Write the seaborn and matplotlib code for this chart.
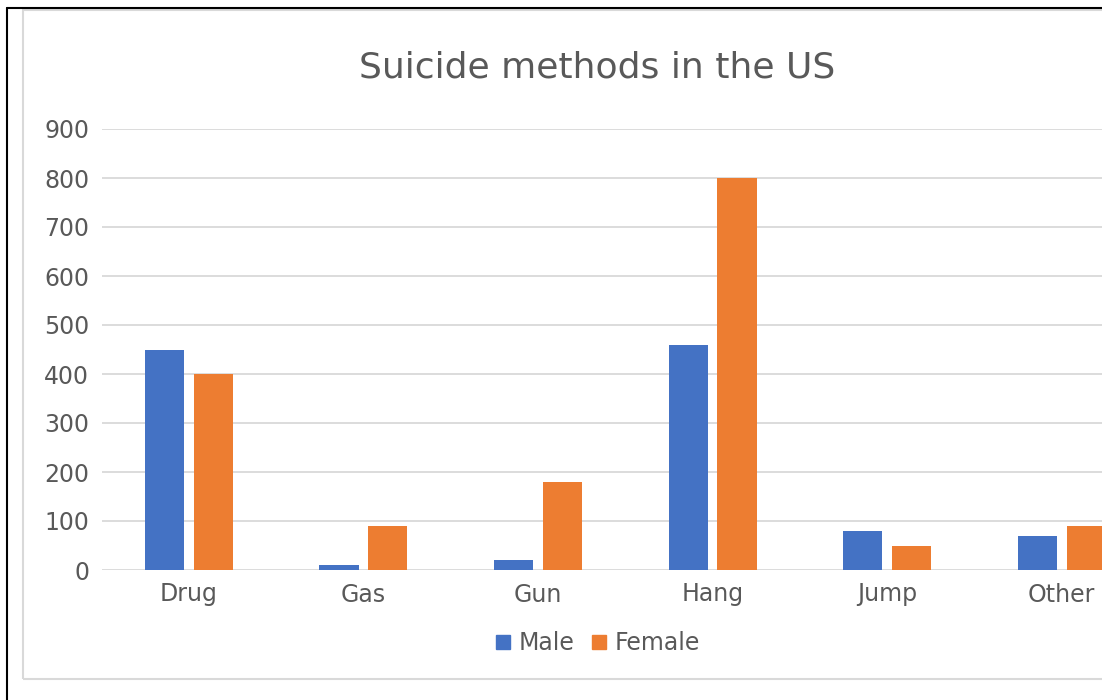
import seaborn as sns
import matplotlib.pyplot as plt
import pandas as pd
from matplotlib.lines import Line2D
from matplotlib.patches import Rectangle

# Datos del gráfico
metodos = ['Drug', 'Gas', 'Gun', 'Hang', 'Jump', 'Other']
hombres = [450, 10, 20, 460, 80, 70]
mujeres = [400, 90, 180, 800, 50, 90]
series = ['Male', 'Female']
colores = ['#4472C4', '#ED7D31']
yticks = [0, 100, 200, 300, 400, 500, 600, 700, 800, 900]

gris_texto = '#595959'
gris_linea = '#D9D9D9'

df = pd.DataFrame({
    'Method': metodos + metodos,
    'Count': hombres + mujeres,
    'Sex': [series[0]] * len(metodos) + [series[1]] * len(metodos),
})

sns.set_style('white')
plt.rcParams['font.family'] = ['DejaVu Sans']

W, H = 1102, 700
fig = plt.figure(figsize=(W / 100, H / 100), dpi=100)

# El área del gráfico sigue más allá del borde derecho (imagen recortada)
ax = fig.add_axes([101.5 / W, 1 - 570 / H, 1047.6 / W, 441 / H])
sns.barplot(data=df, x='Method', y='Count', hue='Sex', hue_order=series,
            palette=colores, saturation=1, width=0.56, gap=0.2,
            errorbar=None, legend=False, linewidth=0, ax=ax)

ax.set_xlim(-0.5, len(metodos) - 0.5)
ax.set_ylim(0, 900)
ax.set_yticks(yticks)
ax.set_xlabel('')
ax.set_ylabel('')
ax.yaxis.grid(True, color=gris_linea, linewidth=1.3)
ax.set_axisbelow(True)
for s in ax.spines.values():
    s.set_visible(False)
ax.tick_params(axis='both', length=0, labelsize=17, colors=gris_texto)
ax.tick_params(axis='y', pad=9)
ax.tick_params(axis='x', pad=9)

# Título centrado en el área del gráfico
fig.text(597.5 / W, 1 - 67 / H, 'Suicide methods in the US',
         fontsize=26, color=gris_texto, ha='center', va='center')

# Leyenda
handles = [Line2D([], [], marker='s', linestyle='', color=c, markersize=10)
           for c in colores]
leg = fig.legend(handles, series, loc='center',
                 bbox_to_anchor=(597.5 / W, 1 - 643 / H), ncol=2,
                 frameon=False, fontsize=17, handlelength=0.7,
                 handletextpad=0.3, columnspacing=0.7)
for t in leg.get_texts():
    t.set_color(gris_texto)

# Bordes
fig.add_artist(Rectangle((23 / W, 1 - 679 / H), (1173 - 23) / W, (679 - 9.5) / H,
                         fill=False, edgecolor=gris_linea, linewidth=1.5,
                         transform=fig.transFigure))
fig.add_artist(Line2D([7 / W, 1], [1 - 7.5 / H, 1 - 7.5 / H], color='black',
                      linewidth=1.5, transform=fig.transFigure))
fig.add_artist(Line2D([7 / W, 7 / W], [0, 1 - 7.5 / H], color='black',
                      linewidth=1.5, transform=fig.transFigure))

fig.savefig('out.png', dpi=100)
plt.close()
